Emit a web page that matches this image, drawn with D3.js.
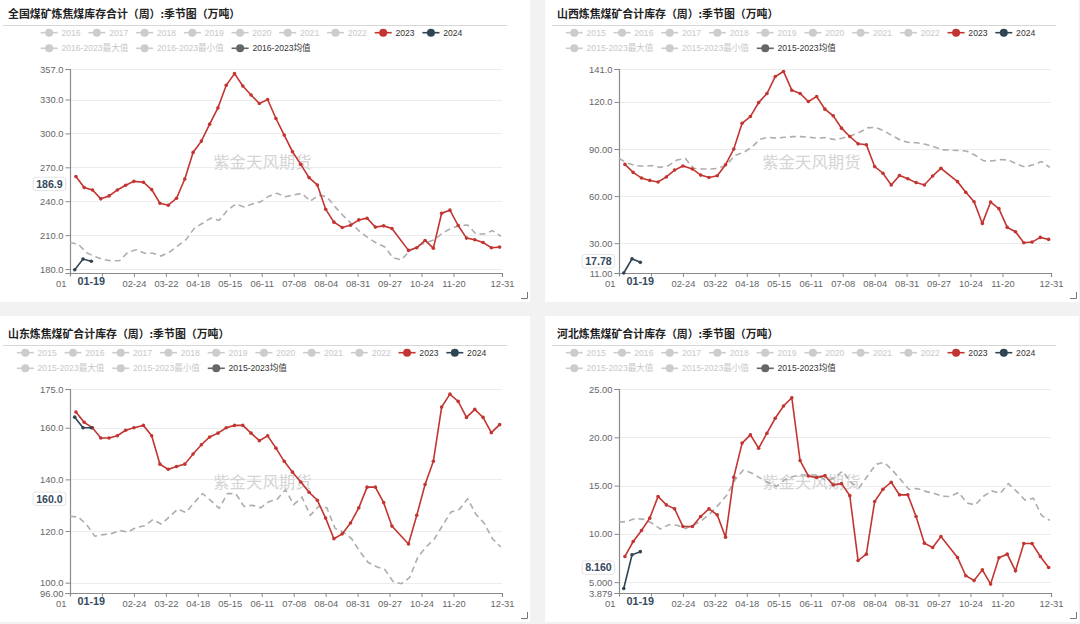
<!DOCTYPE html>
<html><head><meta charset="utf-8">
<script src="https://cdn.jsdelivr.net/npm/d3@7"></script>
<style>
body{margin:0;background:#f2f2f2;}
svg{display:block;}
text{font-family:"Liberation Sans",Arial,"Noto Sans CJK SC",sans-serif;}
</style></head>
<body>
<svg id="chart" width="1080" height="624"></svg>
<script>
// ---------- data ----------
const titles = [
  "全国煤矿炼焦煤库存合计（周）:季节图（万吨）",
  "山西炼焦煤矿合计库存（周）:季节图（万吨）",
  "山东炼焦煤矿合计库存（周）:季节图（万吨）",
  "河北炼焦煤矿合计库存（周）:季节图（万吨）"
];
const legendYearsA = ["2016","2017","2018","2019","2020","2021","2022","2023","2024"];
const legendYearsB = ["2015","2016","2017","2018","2019","2020","2021","2022","2023","2024"];
const legendStatsA = ["2016-2023最大值","2016-2023最小值","2016-2023均值"];
const legendStatsB = ["2015-2023最大值","2015-2023最小值","2015-2023均值"];

const xTickDates  = ["01-01","02-24","03-22","04-18","05-15","06-11","07-08","08-04","08-31","09-27","10-24","11-20","12-31"];
const xTickLabels = ["01","02-24","03-22","04-18","05-15","06-11","07-08","08-04","08-31","09-27","10-24","11-20","12-31"];
const xHiddenTickDates = ["01-28"];
const first2023Week = "2023-01-06";
const dates2024 = ["01-05","01-12","01-19"];
const pointerDate = "01-19";

// 2023 weekly values (null = holiday week with no report)
const nat2023 = [261.8,252.1,250,242.1,244.7,250,254.1,257.6,256.8,250.3,238.2,236.5,242.6,259.7,283.2,293.2,308.2,322.6,342.6,352.9,342,334,326.5,330,
  313.2,298.5,283.8,272.6,260.9,254.4,232.9,221.5,216.8,218.8,223.5,225,217.1,218.2,215.9,null,
  196.5,198.8,205.3,198.5,229.4,232.1,218.5,207.4,205.9,203.5,198.8,199.4];
const nat2024 = [179.4,188.8,186.9];
const natAvg = [203.5,202,194.5,191,188.5,187.2,187.5,195,197,194,194,191.5,195,200.5,206,216,220.5,225,223,232,237.5,235,237.5,239.5,244.5,247,244,245.5,247,240,245.5,244,235,227,220,213,207.5,203,199.5,190,188.2,196,200.5,203.5,206,212,216,218.5,219,211,211,214,209];

const sx2023 = [80.2,75.1,71.5,70,69,72.2,76.6,79.2,77.3,73.4,71.9,73,80,90,106.4,110.7,119.6,125.4,136.2,139.4,127.5,125.4,120.3,
  123.5,115.4,111.2,103.3,98,93.3,92.7,78.8,74.6,67.1,73.1,71.1,68.6,67.1,72.8,77.7,null,
  69.2,62.4,56.4,42.6,56.2,52,40.1,37.3,30.3,30.7,33.7,32.4];
const sx2024 = [11.0,20.0,17.78];
const sxAvg = [84,81,79.5,79,79.5,78.3,79.5,83,84,77.7,77.3,77.3,77.7,80,86,87.7,91,96.2,97.5,96.9,97.5,97.9,97.9,97.5,96.9,97.3,96,97,98.5,100.5,103.5,103.8,101.5,98.5,95.5,94.2,94,93,91.5,89.5,89.3,89.1,88.6,86,82.5,82.4,83.3,83,80.5,78.5,80,82,78.3];

const sd2023 = [166.1,162.1,160,156,156,156.9,159,160,160.9,156.9,145.9,143.9,145,145.9,149.8,153.4,156.4,157.9,160,160.9,160.9,157.9,155,156.9,
  152.1,147,142.8,139,135,131.9,125,117,118.9,123.1,129,137,137,131,121.9,null,
  115,126.1,138,147,168,173,170.2,164,167.1,164,158.1,161.2];
const sd2024 = [164.1,160.0,160.0];
const sdAvg = [125.7,125.4,122.5,118,118.6,119,120.2,119.6,121.4,122,124.4,122.7,125.5,128.5,127.2,131,134.5,131.8,128.8,134.5,134.5,129.5,130,129,131.3,132.3,136,130.2,133.1,126.1,129.5,129,121,119.6,117,112,107.8,106.2,105.1,100.4,99.6,102,110,113.9,117,122.3,127.4,128.4,132.5,126.5,123,117,113.8];

const hb2023 = [7.66,9.21,10.35,11.63,13.87,13.0,12.59,10.76,10.76,11.8,12.59,11.97,9.66,15.87,19.4,20.25,18.87,20.42,21.97,23.24,24.1,17.59,16.0,
  15.83,16.03,15.07,15.2,13.96,7.24,7.9,13.35,14.62,15.35,14.04,14.04,11.8,9.04,8.59,9.73,null,
  7.55,5.66,5.17,6.28,4.8,7.52,7.9,6.17,9.0,9.0,7.66,6.52];
const hb2024 = [4.35,7.83,8.16];
const hbAvg = [11.2,11.3,11.6,11.5,11.1,10.5,10.95,10.9,10.55,10.9,11.4,12.1,13,14,15.6,16.6,16.3,15.8,15.3,14.9,15.6,15.95,16.1,16.1,16.1,15.5,15.8,16.5,15.3,14.8,16,17.2,17.4,16.6,15.6,14.6,14.7,14.4,14.2,13.9,13.87,14.3,13.2,13,13.9,14.45,14.2,15.2,14.4,13.5,13.7,11.9,11.4];

const yTicksNat = [180,210,240,270,300,330,357];
const yTicksSx  = [11,30,60,90,120,141];
const yTicksSd  = [96,100,120,140,160,175];
const yTicksHb  = [3.879,5,10,15,20,25];
const yDomains  = [[176.5,357],[11,141],[96,175],[3.879,25]];
const pointerLevels = [255.3,18.5,132.5,6.51];   // where the crosshair sits on the y axis
const pointerValues = [186.9,17.78,160.0,8.16];  // latest 2024 reading shown in the box

// ---------- helpers ----------
const parse24 = d3.timeParse("%Y-%m-%d");
const base = parse24("2024-01-01");
const dayIdx = md => d3.timeDay.count(base, parse24("2024-" + md));
const fmtMD = d3.timeFormat("%m-%d");
const wk0 = parse24(first2023Week);
const days2023 = d3.range(52).map(i => dayIdx(fmtMD(d3.timeDay.offset(wk0, 7 * i))));
const daysAvg = d3.range(53).map(i => i * 7);

const RED = "#c23531", NAVY = "#2f4554", AVG = "#adadad", AVG_LEG = "#666666";

const charts = [
  {title: titles[0], years: legendYearsA, stats: legendStatsA, v23: nat2023, v24: nat2024, avg: natAvg, ticks: yTicksNat, ox: 0, oy: 0},
  {title: titles[1], years: legendYearsB, stats: legendStatsB, v23: sx2023, v24: sx2024, avg: sxAvg, ticks: yTicksSx, ox: 549, oy: 0},
  {title: titles[2], years: legendYearsB, stats: legendStatsB, v23: sd2023, v24: sd2024, avg: sdAvg, ticks: yTicksSd, ox: 0, oy: 320},
  {title: titles[3], years: legendYearsB, stats: legendStatsB, v23: hb2023, v24: hb2024, avg: hbAvg, ticks: yTicksHb, ox: 549, oy: 320}
];

const svg = d3.select("#chart");
const fmt4 = v => (+v).toPrecision(4);
const tickDayList = xTickDates.map(dayIdx);

charts.forEach((c, ci) => {
  const g = svg.append("g").attr("transform", `translate(${c.ox},${c.oy})`);
  // panel
  g.append("rect").attr("x", -4).attr("y", -4).attr("width", 534).attr("height", 306).attr("fill", "#fff");
  g.append("path").attr("d", "M521,298.5H527.5V292").attr("fill", "none").attr("stroke", "#777").attr("stroke-width", 1);

  // title
  g.append("text").attr("x", 8).attr("y", 18).text(c.title)
    .style("font-family", '"Noto Sans CJK SC",sans-serif').style("font-weight", "700")
    .style("font-size", "10.9px").attr("fill", "#222");
  g.append("line").attr("x1", 3).attr("x2", 507).attr("y1", 25.5).attr("y2", 25.5).attr("stroke", "#d6d6d6");

  // legend
  const items = c.years.map(y => ({label: y, color: y === "2023" ? RED : y === "2024" ? NAVY : null}));
  const stats = c.stats.map((s, i) => ({label: s, color: i === 2 ? AVG_LEG : null}));
  const leg = g.append("g");
  const mk = it => {
    const gi = leg.append("g");
    const col = it.color || "#cccccc";
    gi.append("line").attr("x1", 0).attr("x2", 17).attr("y1", 0).attr("y2", 0).attr("stroke", col).attr("stroke-width", 1.6);
    gi.append("circle").attr("cx", 8.5).attr("cy", 0).attr("r", 4).attr("fill", col);
    const t = gi.append("text").attr("x", 20.8).attr("y", 0).attr("dy", "0.36em").text(it.label)
      .style("font-size", "8.6px").attr("fill", it.color ? "#333" : "#c8c8c8");
    it.g = gi; it.w = 20.8 + t.node().getComputedTextLength();
  };
  items.forEach(mk);
  stats.forEach(mk);
  const gap = 7.8;
  const total = d3.sum(items, d => d.w) + gap * (items.length - 1);
  const left = 251.5 - total / 2;
  let xx = left;
  items.forEach(it => { it.g.attr("transform", `translate(${xx},32.7)`); xx += it.w + gap; });
  xx = left;
  stats.forEach(it => { it.g.attr("transform", `translate(${xx},48.3)`); xx += it.w + gap; });

  // scales
  const x = d3.scaleLinear().domain([0, 365]).range([70, 502]);
  const y = d3.scaleLinear().domain(yDomains[ci]).range([273, 69]);

  // grid
  g.append("g").selectAll("line").data(c.ticks.filter(t => t !== yDomains[ci][0])).join("line")
    .attr("x1", 70).attr("x2", 502).attr("y1", d => Math.round(y(d)) + 0.5).attr("y2", d => Math.round(y(d)) + 0.5)
    .attr("stroke", "#ececec");

  // watermark
  g.append("text").attr("x", 262.4).attr("y", 161.7).attr("dy", "0.36em").attr("text-anchor", "middle")
    .text("紫金天风期货").style("font-family", '"Noto Sans CJK SC",sans-serif').style("font-size", "16.4px")
    .attr("fill", "#d4d4d4");

  // y axis
  const yAxis = d3.axisLeft(y).tickValues(c.ticks).tickSize(4.5).tickPadding(2).tickFormat(fmt4);
  const ya = g.append("g").attr("transform", "translate(70,0)").call(yAxis);
  ya.select(".domain").attr("stroke", "#8a8a8a").attr("stroke-width", 1.2);
  ya.selectAll(".tick line").attr("stroke", "#8a8a8a");
  ya.selectAll(".tick text").style("font-size", "9.4px").attr("fill", "#666").style("font-family", '"Liberation Sans",Arial,sans-serif');

  // x axis
  const tickDays = tickDayList.concat(xHiddenTickDates.map(dayIdx));
  const xAxis = d3.axisBottom(x).tickValues(tickDays).tickSize(4).tickPadding(3)
    .tickFormat(d => { const k = tickDayList.indexOf(d); return k >= 0 ? xTickLabels[k] : ""; });
  const xa = g.append("g").attr("transform", "translate(0,273)").call(xAxis);
  xa.select(".domain").attr("stroke", "#8a8a8a").attr("stroke-width", 1.2);
  xa.selectAll(".tick line").attr("stroke", "#8a8a8a");
  xa.selectAll(".tick text").style("font-size", "9.4px").attr("fill", "#666").style("font-family", '"Liberation Sans",Arial,sans-serif');
  // first label sits left of its tick, clear of the pointer label
  xa.selectAll(".tick").filter(d => d === 0).select("text").attr("text-anchor", "end").attr("dx", -4);

  // average dashed
  const line = d3.line().x(d => x(d[0])).y(d => y(d[1]));
  g.append("path").datum(daysAvg.map((d, i) => [d, c.avg[i]]))
    .attr("d", line).attr("fill", "none").attr("stroke", AVG).attr("stroke-width", 1.6).attr("stroke-dasharray", "6,4");

  // 2023
  const p23 = days2023.map((d, i) => [d, c.v23[i]]).filter(d => d[1] != null);
  g.append("path").datum(p23).attr("d", line).attr("fill", "none").attr("stroke", RED).attr("stroke-width", 1.6);
  g.append("g").selectAll("circle").data(p23).join("circle")
    .attr("cx", d => x(d[0])).attr("cy", d => y(d[1])).attr("r", 1.8).attr("fill", RED);

  // 2024
  const p24 = dates2024.map((d, i) => [dayIdx(d), c.v24[i]]);
  g.append("path").datum(p24).attr("d", line).attr("fill", "none").attr("stroke", NAVY).attr("stroke-width", 1.6);
  g.append("g").selectAll("circle").data(p24).join("circle")
    .attr("cx", d => x(d[0])).attr("cy", d => y(d[1])).attr("r", 1.8).attr("fill", NAVY);

  // x pointer label
  const px = x(dayIdx(pointerDate));
  const xl = g.append("g");
  const xt = xl.append("text").attr("x", px).attr("y", 281).attr("dy", "0.36em").attr("text-anchor", "middle")
    .text(pointerDate).style("font-size", "10.8px").style("font-weight", "700").attr("fill", "#34495e");
  const xw = xt.node().getComputedTextLength();
  xl.insert("rect", "text").attr("x", px - xw / 2 - 8).attr("y", 276.5).attr("width", xw + 16).attr("height", 11).attr("fill", "#fff");

  // y pointer label
  const py = y(pointerLevels[ci]);
  const yl = g.append("g");
  const yt = yl.append("text").attr("x", 50).attr("y", py).attr("dy", "0.36em").attr("text-anchor", "middle")
    .text(fmt4(pointerValues[ci])).style("font-size", "10.6px").style("font-weight", "700").attr("fill", "#34495e");
  const yw = yt.node().getComputedTextLength();
  const bw = yw + 6;
  yt.attr("x", 65.7 - bw / 2);
  yl.insert("rect", "text").attr("x", 65.7 - bw).attr("y", py - 6.7).attr("width", bw).attr("height", 13.4)
    .attr("rx", 2.5).attr("fill", "#fff").attr("stroke", "#dcdcdc").attr("stroke-width", 0.8);
});
</script>
</body></html>
